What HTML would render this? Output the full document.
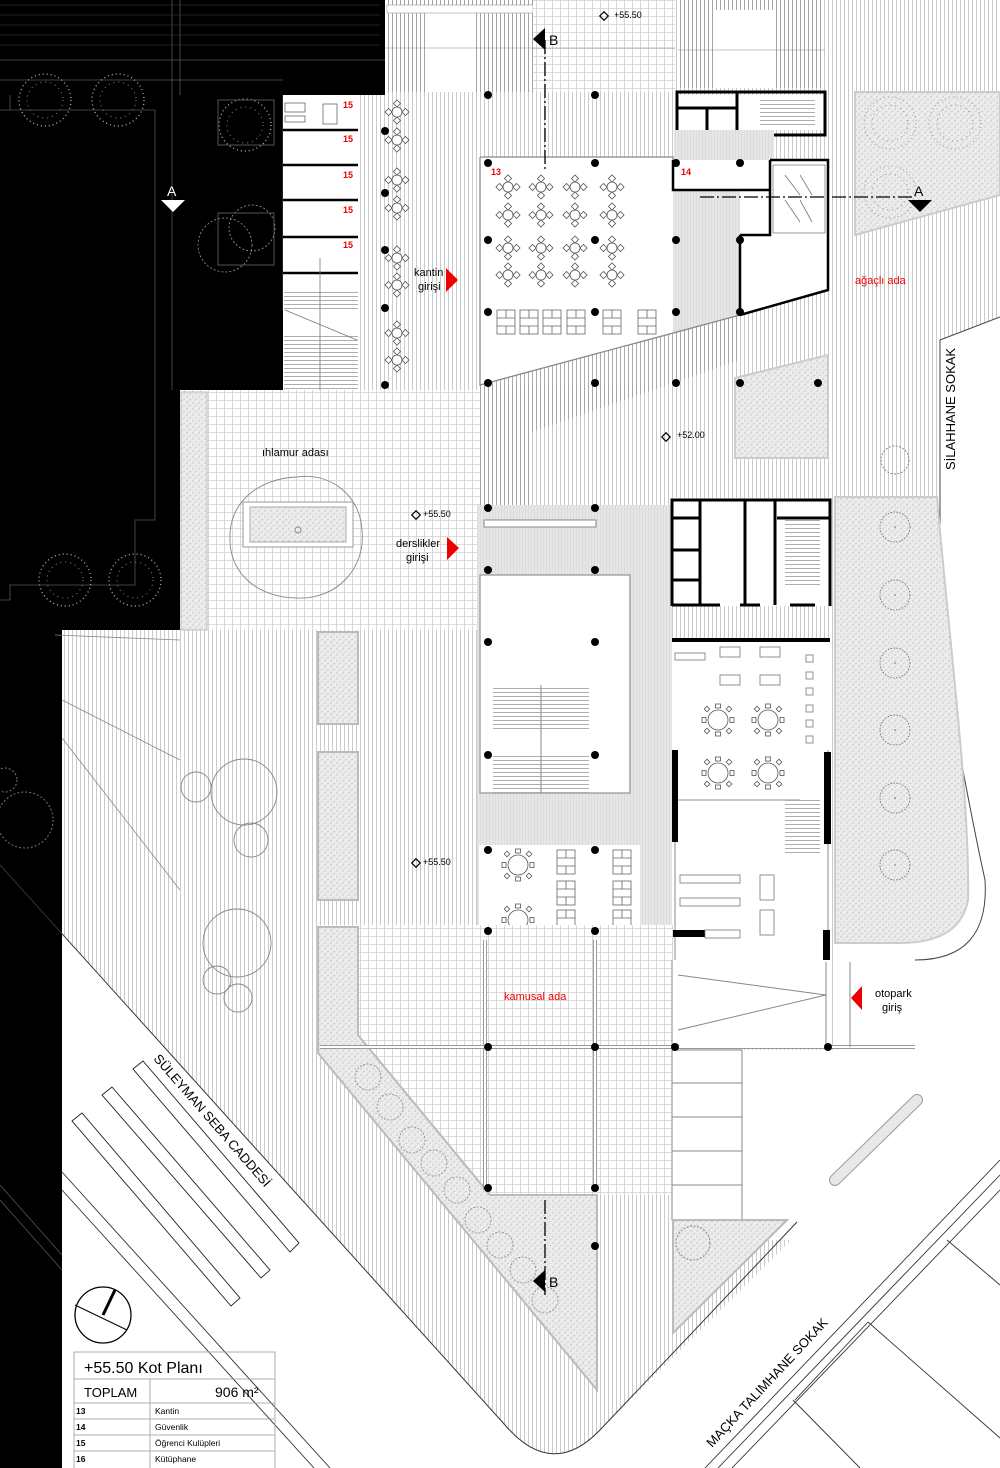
<!DOCTYPE html>
<html><head><meta charset="utf-8"><style>
html,body{margin:0;padding:0;background:#fff;}
svg{display:block;}
text{font-family:"Liberation Sans",sans-serif;}
</style></head><body>
<svg width="1000" height="1468" viewBox="0 0 1000 1468" xmlns="http://www.w3.org/2000/svg">
<defs>
<pattern id="vh" width="4" height="10" patternUnits="userSpaceOnUse"><rect width="4" height="10" fill="#fff"/><line x1="0.5" y1="0" x2="0.5" y2="10" stroke="#bdbdbd" stroke-width="0.8"/></pattern>
<pattern id="vhd" width="4" height="10" patternUnits="userSpaceOnUse"><rect width="4" height="10" fill="#fff"/><line x1="0.5" y1="0" x2="0.5" y2="10" stroke="#999" stroke-width="0.9"/></pattern>
<pattern id="hh" width="10" height="4" patternUnits="userSpaceOnUse"><rect width="10" height="4" fill="#fff"/><line x1="0" y1="0.5" x2="10" y2="0.5" stroke="#999" stroke-width="0.8"/></pattern>
<pattern id="gr" width="8" height="8" patternUnits="userSpaceOnUse"><rect width="8" height="8" fill="#fff"/><path d="M0 0.5H8M0.5 0V8" stroke="#cfcfcf" stroke-width="0.8"/></pattern>
<pattern id="dt" width="6" height="6" patternUnits="userSpaceOnUse"><rect width="6" height="6" fill="#ececec"/><circle cx="1" cy="1" r="0.6" fill="#aaa"/><circle cx="4" cy="3.5" r="0.6" fill="#b5b5b5"/><circle cx="2" cy="5" r="0.5" fill="#bbb"/></pattern>
<pattern id="gy" width="3" height="10" patternUnits="userSpaceOnUse"><rect width="3" height="10" fill="#e6e6e6"/><line x1="0.5" y1="0" x2="0.5" y2="10" stroke="#d6d6d6" stroke-width="0.6"/></pattern>
<g id="t4"><circle cx="0" cy="0" r="5" fill="#fff" stroke="#555" stroke-width="0.8"/><rect x="-2.5" y="-11" width="5" height="5" transform="rotate(45 0 -8.5)" fill="#fff" stroke="#555" stroke-width="0.8"/><rect x="-2.5" y="6" width="5" height="5" transform="rotate(45 0 8.5)" fill="#fff" stroke="#555" stroke-width="0.8"/><rect x="-11" y="-2.5" width="5" height="5" transform="rotate(45 -8.5 0)" fill="#fff" stroke="#555" stroke-width="0.8"/><rect x="6" y="-2.5" width="5" height="5" transform="rotate(45 8.5 0)" fill="#fff" stroke="#555" stroke-width="0.8"/></g>
<g id="t6"><circle r="10" fill="#fff" stroke="#555" stroke-width="0.8"/><g fill="#fff" stroke="#555" stroke-width="0.8"><rect x="-2.5" y="-16" width="5" height="4"/><rect x="-2.5" y="12" width="5" height="4"/><rect x="-16" y="-2.5" width="4" height="5"/><rect x="12" y="-2.5" width="4" height="5"/><rect x="-13" y="-13" width="4" height="4" transform="rotate(45 -11 -11)"/><rect x="9" y="-13" width="4" height="4" transform="rotate(45 11 -11)"/><rect x="-13" y="9" width="4" height="4" transform="rotate(45 -11 11)"/><rect x="9" y="9" width="4" height="4" transform="rotate(45 11 11)"/></g></g>
<g id="sq"><rect x="-9" y="-12" width="18" height="24" fill="#fff" stroke="#666" stroke-width="0.8"/><path d="M-9 -4H9M-9 4H9M0 -12V-4M0 4V12" stroke="#666" stroke-width="0.8"/></g>
<g id="tree"><circle r="15" fill="none" stroke="#666" stroke-width="0.8" stroke-dasharray="1.5 1.5"/><circle r="0.8" fill="#666"/></g>
<g id="dtree"><circle r="26" fill="none" stroke="#aaa" stroke-width="1.4" stroke-dasharray="1 3"/><circle r="18" fill="none" stroke="#888" stroke-width="1" stroke-dasharray="1 4"/></g>
</defs>

<path d="M62 0H1000V317L940 340V620H833V1050H672V1240H791L600 1430Q552 1480 505 1425L62 934Z" fill="url(#vh)"/>

<polygon points="0,0 385,0 385,95 283,95 283,390 180,390 180,630 62,630 62,1468 0,1468" fill="#000"/>
<g stroke="#555" stroke-width="0.8" fill="none">
<path d="M0 60H385M0 80H283M10 95V110H0M10 110H155V480M155 110V520H135V585H10V600H0"/>
<path d="M172 0V390M180 0V95M283 95V310"/>
<path d="M0 1185L62 1255M0 1200L62 1270"/>
</g>
<g stroke="#444" stroke-width="0.6"><path d="M0 5H380M0 15H380M0 25H380M0 35H380M0 45H380"/></g>
<use href="#dtree" x="45" y="100"/><use href="#dtree" x="118" y="100"/><use href="#dtree" x="245" y="125"/>
<use href="#dtree" x="65" y="580"/><use href="#dtree" x="135" y="580"/>
<circle cx="225" cy="245" r="27" fill="none" stroke="#999" stroke-width="0.8" stroke-dasharray="2 2"/>
<circle cx="252" cy="228" r="23" fill="none" stroke="#999" stroke-width="0.8" stroke-dasharray="2 2"/>
<rect x="218" y="100" width="56" height="45" fill="none" stroke="#555"/><rect x="218" y="213" width="56" height="52" fill="none" stroke="#555"/>
<circle cx="25" cy="820" r="28" fill="none" stroke="#777" stroke-dasharray="2 2"/>
<circle cx="5" cy="780" r="12" fill="none" stroke="#777" stroke-dasharray="2 2"/>

<rect x="283" y="95" width="77" height="295" fill="#fff"/>
<g stroke="#000" stroke-width="2.5"><path d="M283 130H358M283 165H358M283 200H358M283 237H358M283 273H358"/></g>
<rect x="284" y="290" width="74" height="20" fill="url(#hh)"/>
<rect x="284" y="335" width="74" height="55" fill="url(#hh)"/>
<path d="M285 310L357 340M320 258V390" stroke="#777" stroke-width="0.8"/>
<g fill="#fff" stroke="#666" stroke-width="0.8"><rect x="285" y="103" width="20" height="9"/><rect x="285" y="116" width="20" height="6"/><rect x="323" y="104" width="14" height="20"/></g>
<g fill="#e00" font-size="9" font-weight="bold"><text x="343" y="108">15</text><text x="343" y="142">15</text><text x="343" y="178">15</text><text x="343" y="213">15</text><text x="343" y="248">15</text></g>

<rect x="385" y="0" width="148" height="92" fill="url(#vhd)"/>
<rect x="425" y="10" width="50" height="82" fill="#fff"/>
<rect x="387" y="5" width="146" height="8" fill="#fff" stroke="#999" stroke-width="0.6"/>
<rect x="533" y="0" width="142" height="92" fill="url(#gr)"/>
<rect x="678" y="0" width="146" height="88" fill="url(#vhd)"/>
<rect x="713" y="10" width="60" height="78" fill="#fff"/>
<path d="M385 48H675M678 50H825" stroke="#888" stroke-width="0.6"/>

<rect x="180" y="390" width="300" height="240" fill="url(#gr)"/>
<rect x="181" y="392" width="26" height="238" fill="url(#dt)" stroke="#bbb"/>
<rect x="385" y="95" width="95" height="295" fill="url(#vh)"/>
<path d="M297 477C330 472 360 495 362 530C366 570 335 600 297 598C260 598 230 575 230 540C228 500 262 478 297 477Z" fill="none" stroke="#888" stroke-width="0.9"/>
<rect x="243" y="502" width="110" height="45" fill="#fff" stroke="#999"/>
<rect x="250" y="507" width="96" height="35" fill="url(#dt)" stroke="#aaa"/>
<circle cx="298" cy="530" r="3" fill="none" stroke="#888"/>
<text x="262" y="456" font-size="11">ıhlamur adası</text>
<g>
<use href="#t4" x="397" y="112"/><use href="#t4" x="397" y="140"/><use href="#t4" x="397" y="180"/><use href="#t4" x="397" y="208"/><use href="#t4" x="397" y="258"/><use href="#t4" x="397" y="285"/><use href="#t4" x="397" y="333"/><use href="#t4" x="397" y="360"/>
</g>
<text x="414" y="276" font-size="11">kantin</text><text x="418" y="290" font-size="11">girişi</text>
<polygon points="446,268 458,280 446,292" fill="#e00"/>
<text x="396" y="547" font-size="11">derslikler</text><text x="406" y="561" font-size="11">girişi</text>
<polygon points="447,537 459,548 447,560" fill="#e00"/>
<g font-size="9"><text x="423" y="517">+55.50</text><text x="423" y="865">+55.50</text><text x="677" y="438">+52.00</text><text x="534" y="1116">+52.00</text><text x="614" y="18">+55.50</text></g>
<g fill="none" stroke="#000" stroke-width="1.2"><rect x="413" y="512" width="6" height="6" transform="rotate(45 416 515)"/><rect x="413" y="860" width="6" height="6" transform="rotate(45 416 863)"/><rect x="663" y="434" width="6" height="6" transform="rotate(45 666 437)"/><rect x="521" y="1112" width="6" height="6" transform="rotate(45 524 1115)"/><rect x="601" y="13" width="6" height="6" transform="rotate(45 604 16)"/></g>

<polygon points="480,157 673,157 673,385 480,385" fill="#fff"/>
<polygon points="480,385 740,315 830,290 830,160 673,160 673,385" fill="#fff"/>
<polygon points="673,190 740,190 740,315 673,335" fill="url(#gy)"/>
<polygon points="480,385 740,315 740,360 480,450" fill="url(#vhd)" opacity="0.9"/>
<rect x="480" y="385" width="50" height="120" fill="url(#vhd)"/>
<path d="M480 157H673V190H740M480 157V385L740 315" fill="none" stroke="#888" stroke-width="1.3"/>
<rect x="673" y="95" width="155" height="35" fill="#fff"/>
<path d="M677 140V92H825V135H755M677 108H737M677 92V140M707 108V135M737 92V135M755 135V130" fill="none" stroke="#000" stroke-width="3"/>
<rect x="760" y="98" width="55" height="30" fill="url(#hh)"/>
<rect x="674" y="130" width="100" height="30" fill="url(#gy)"/>
<path d="M673 160V190H770M770 160H828V290L740 315M740 235V315M770 160V235H740" fill="none" stroke="#000" stroke-width="2.5"/>
<rect x="773" y="165" width="52" height="68" fill="#fff" stroke="#555" stroke-width="0.6"/>
<path d="M785 175L800 195M800 175L812 195M785 200L800 222M800 200L812 222" stroke="#777" stroke-width="0.8"/>
<g>
<use href="#t4" x="508" y="187"/><use href="#t4" x="541" y="187"/><use href="#t4" x="575" y="187"/><use href="#t4" x="612" y="187"/>
<use href="#t4" x="508" y="215"/><use href="#t4" x="541" y="215"/><use href="#t4" x="575" y="215"/><use href="#t4" x="612" y="215"/>
<use href="#t4" x="508" y="248"/><use href="#t4" x="541" y="248"/><use href="#t4" x="575" y="248"/><use href="#t4" x="612" y="248"/>
<use href="#t4" x="508" y="275"/><use href="#t4" x="541" y="275"/><use href="#t4" x="575" y="275"/><use href="#t4" x="612" y="275"/>
<use href="#sq" x="506" y="322"/><use href="#sq" x="529" y="322"/><use href="#sq" x="552" y="322"/><use href="#sq" x="576" y="322"/><use href="#sq" x="612" y="322"/><use href="#sq" x="647" y="322"/>
</g>
<g fill="#e00" font-size="9" font-weight="bold"><text x="491" y="175">13</text><text x="681" y="175">14</text><text x="683" y="794">16</text><text x="484" y="921">17</text></g>
<polygon points="855,92 1000,92 1000,195 855,235" fill="url(#dt)" stroke="#ccc" stroke-width="2"/>
<use href="#dtree" x="890" y="123"/><use href="#dtree" x="955" y="123"/><use href="#dtree" x="890" y="192"/>
<text x="855" y="284" font-size="11" fill="#e00">ağaçlı ada</text>
<polygon points="735,378 828,355 828,458 735,458" fill="url(#dt)" stroke="#ccc" stroke-width="2"/>
<circle cx="895" cy="460" r="14" fill="none" stroke="#888" stroke-dasharray="2 1.5"/>
<path d="M940 340V620C950 720 985 880 985 880Q990 960 915 960" fill="none" stroke="#444" stroke-width="1"/>
<path d="M940 340L1000 317" stroke="#444" stroke-width="1"/>
<text transform="translate(955,470) rotate(-90)" font-size="13">SİLAHHANE SOKAK</text>

<rect x="477" y="505" width="195" height="435" fill="url(#gy)"/>
<rect x="480" y="575" width="150" height="218" fill="#fff" stroke="#999" stroke-width="1.3"/>
<rect x="493" y="685" width="96" height="45" fill="url(#hh)"/><rect x="493" y="753" width="96" height="40" fill="url(#hh)"/>
<path d="M541 685V793" stroke="#888"/>
<rect x="484" y="520" width="112" height="7" fill="#fff" stroke="#888"/>
<rect x="479" y="845" width="161" height="95" fill="#fff"/>
<path d="M477 940H640" stroke="#999" stroke-width="2"/>
<use href="#t6" x="518" y="865"/><use href="#t6" x="518" y="920"/>
<use href="#sq" x="566" y="862"/><use href="#sq" x="622" y="862"/><use href="#sq" x="566" y="893"/><use href="#sq" x="622" y="893"/><use href="#sq" x="566" y="922"/><use href="#sq" x="622" y="922"/>
<rect x="672" y="498" width="158" height="108" fill="#fff"/>
<path d="M672 606V500H830V606M672 518H700M672 550H700M672 580H700M700 500V605M745 500V605M775 500V605M777 518H830M672 605H720M740 605H760M790 605H815" fill="none" stroke="#000" stroke-width="3"/>
<rect x="785" y="520" width="35" height="65" fill="url(#hh)"/>
<rect x="672" y="638" width="158" height="322" fill="#fff"/>
<path d="M672 640H830" stroke="#000" stroke-width="4"/>
<path d="M675 750V960M828 750V960M672 800H800" stroke="#888" stroke-width="1"/>
<rect x="672" y="750" width="6" height="92" fill="#000"/><rect x="824" y="752" width="7" height="92" fill="#000"/>
<rect x="672" y="930" width="33" height="7" fill="#000"/><rect x="823" y="930" width="7" height="30" fill="#000"/>
<rect x="785" y="800" width="35" height="55" fill="url(#hh)"/>
<use href="#t6" x="718" y="720"/><use href="#t6" x="768" y="720"/><use href="#t6" x="718" y="773"/><use href="#t6" x="768" y="773"/>
<g fill="#fff" stroke="#777" stroke-width="0.8"><rect x="720" y="647" width="20" height="10"/><rect x="760" y="647" width="20" height="10"/><rect x="720" y="675" width="20" height="10"/><rect x="760" y="675" width="20" height="10"/><rect x="675" y="653" width="30" height="7"/>
<rect x="806" y="655" width="7" height="7"/><rect x="806" y="672" width="7" height="7"/><rect x="806" y="688" width="7" height="7"/><rect x="806" y="705" width="7" height="7"/><rect x="806" y="720" width="7" height="7"/><rect x="806" y="736" width="7" height="7"/>
<rect x="680" y="875" width="60" height="8"/><rect x="680" y="898" width="60" height="8"/><rect x="705" y="930" width="35" height="8"/><rect x="760" y="875" width="14" height="25"/><rect x="760" y="910" width="14" height="25"/></g>
<path d="M835 497H937C950 650 970 800 968 900Q960 943 900 943H835Z" fill="url(#dt)" stroke="#ccc" stroke-width="2"/>
<use href="#tree" x="895" y="527"/><use href="#tree" x="895" y="595"/><use href="#tree" x="895" y="663"/><use href="#tree" x="895" y="730"/><use href="#tree" x="895" y="798"/><use href="#tree" x="895" y="865"/>

<rect x="318" y="632" width="40" height="92" fill="url(#dt)" stroke="#bbb" stroke-width="2"/>
<rect x="318" y="752" width="40" height="148" fill="url(#dt)" stroke="#bbb" stroke-width="2"/>
<g fill="none" stroke="#888" stroke-width="0.9"><circle cx="244" cy="792" r="33"/><circle cx="196" cy="787" r="15"/><circle cx="251" cy="840" r="17"/><circle cx="237" cy="943" r="34"/><circle cx="217" cy="980" r="14"/><circle cx="238" cy="998" r="14"/></g>
<path d="M55 635L180 640M62 700L180 760M62 738L180 890" stroke="#888" stroke-width="0.8" fill="none"/>

<rect x="318" y="925" width="355" height="125" fill="url(#gr)"/>
<polygon points="360,1050 672,1050 672,1195 490,1195" fill="url(#gr)"/>
<polygon points="318,927 358,927 358,1035 490,1195 597,1195 597,1390 318,1053" fill="url(#dt)" stroke="#bbb" stroke-width="2"/>
<g fill="none" stroke="#888" stroke-width="0.8" stroke-dasharray="2 1.5"><circle cx="368" cy="1077" r="13"/><circle cx="390" cy="1107" r="13"/><circle cx="412" cy="1140" r="13"/><circle cx="434" cy="1163" r="13"/><circle cx="457" cy="1190" r="13"/><circle cx="478" cy="1220" r="13"/><circle cx="500" cy="1245" r="13"/><circle cx="523" cy="1270" r="13"/><circle cx="545" cy="1300" r="13"/></g>
<path d="M485 940V1190M595 940V1190M320 1047H915" stroke="#999" stroke-width="4"/>
<path d="M485 940V1190M595 940V1190M320 1047H915" stroke="#fff" stroke-width="2"/>
<text x="504" y="1000" font-size="11" fill="#e00">kamusal ada</text>
<rect x="672" y="960" width="158" height="87" fill="#fff"/>
<path d="M672 960V1047M826 962V1047M850 962V1047M678 975L826 995L678 1030" fill="none" stroke="#888"/>
<polygon points="862,986 851,998 862,1010" fill="#e00"/>
<text x="875" y="997" font-size="11">otopark</text><text x="882" y="1011" font-size="11">giriş</text>
<rect x="672" y="1050" width="70" height="170" fill="#fff" stroke="#888"/>
<path d="M672 1083H742M672 1117H742M672 1151H742M672 1185H742" stroke="#888"/>
<polygon points="673,1220 787,1220 673,1333" fill="url(#dt)" stroke="#bbb" stroke-width="2"/>
<circle cx="693" cy="1243" r="17" fill="none" stroke="#888" stroke-dasharray="2 1.5"/>
<path d="M917 1100L835 1180" stroke="#999" stroke-width="12" stroke-linecap="round"/><path d="M917 1100L835 1180" stroke="#e8e8e8" stroke-width="10" stroke-linecap="round"/>

<path d="M0 865L505 1425Q552 1480 600 1430L797 1222" fill="none" stroke="#333" stroke-width="1"/>
<path d="M1000 1160L705 1468M1000 1175L718 1468M1000 1190L732 1468" stroke="#333" stroke-width="0.9" fill="none"/>
<path d="M947 1240L1000 1285M868 1322L1000 1438M868 1322L795 1400M793 1400L860 1468" stroke="#333" stroke-width="0.9" fill="none"/>
<g fill="#fff" stroke="#222" stroke-width="0.9">
<polygon points="133,1069 143,1061 299,1243 290,1252"/>
<polygon points="102,1095 112,1087 270,1270 261,1278"/>
<polygon points="72,1121 82,1113 240,1298 231,1306"/>
</g>
<path d="M62 1172L330 1468M62 1190L314 1468" stroke="#333" stroke-width="0.9"/>
<text transform="translate(153,1059) rotate(49)" font-size="13">SÜLEYMAN SEBA CADDESİ</text>
<text transform="translate(712,1448) rotate(-47)" font-size="13">MAÇKA TALIMHANE SOKAK</text>

<g fill="#000">
<circle cx="488" cy="95" r="4"/><circle cx="595" cy="95" r="4"/>
<circle cx="385" cy="131" r="4"/><circle cx="385" cy="193" r="4"/><circle cx="385" cy="250" r="4"/><circle cx="385" cy="308" r="4"/><circle cx="385" cy="385" r="4"/>
<circle cx="488" cy="163" r="4"/><circle cx="595" cy="163" r="4"/><circle cx="676" cy="163" r="4"/><circle cx="740" cy="163" r="4"/>
<circle cx="488" cy="240" r="4"/><circle cx="595" cy="240" r="4"/><circle cx="676" cy="240" r="4"/><circle cx="740" cy="240" r="4"/>
<circle cx="488" cy="312" r="4"/><circle cx="595" cy="312" r="4"/><circle cx="676" cy="312" r="4"/><circle cx="740" cy="312" r="4"/>
<circle cx="488" cy="383" r="4"/><circle cx="595" cy="383" r="4"/><circle cx="676" cy="383" r="4"/><circle cx="740" cy="383" r="4"/><circle cx="818" cy="383" r="4"/>
<circle cx="488" cy="508" r="4"/><circle cx="595" cy="508" r="4"/><circle cx="488" cy="570" r="4"/><circle cx="595" cy="570" r="4"/>
<circle cx="488" cy="642" r="4"/><circle cx="595" cy="642" r="4"/><circle cx="488" cy="755" r="4"/><circle cx="595" cy="755" r="4"/>
<circle cx="488" cy="850" r="4"/><circle cx="595" cy="850" r="4"/><circle cx="488" cy="931" r="4"/><circle cx="595" cy="931" r="4"/>
<circle cx="488" cy="1047" r="4"/><circle cx="595" cy="1047" r="4"/><circle cx="675" cy="1047" r="4"/><circle cx="828" cy="1047" r="4"/>
<circle cx="488" cy="1188" r="4"/><circle cx="595" cy="1188" r="4"/><circle cx="595" cy="1246" r="4"/>
</g>

<path d="M545 40V170" stroke="#000" stroke-width="1.3" stroke-dasharray="14 3 2 3"/>
<path d="M545 1200V1295" stroke="#000" stroke-width="1.3" stroke-dasharray="14 3 2 3"/>
<path d="M175 193H280M700 197H915" stroke="#000" stroke-width="1.3" stroke-dasharray="14 3 2 3"/>
<polygon points="545,28 545,50 533,39" fill="#000"/><text x="549" y="45" font-size="14">B</text>
<polygon points="545,1270 545,1292 533,1281" fill="#000"/><text x="549" y="1287" font-size="14">B</text>
<polygon points="161,200 185,200 173,212" fill="#fff"/><text x="167" y="196" font-size="14" fill="#fff">A</text>
<polygon points="908,200 932,200 920,212" fill="#000"/><text x="914" y="196" font-size="14">A</text>

<circle cx="103" cy="1315" r="28" fill="#fff" stroke="#000" stroke-width="1.3"/>
<path d="M75 1305L127 1330M103 1315L115 1290" stroke="#000" stroke-width="1"/>
<path d="M103 1315L115 1290" stroke="#000" stroke-width="3"/>
<g fill="none" stroke="#999" stroke-width="0.8">
<rect x="74" y="1352" width="201" height="118"/>
<path d="M74 1379H275M74 1403H275M74 1419H275M74 1435H275M74 1451H275M150 1379V1468"/>
</g>
<text x="84" y="1373" font-size="16">+55.50 Kot Planı</text>
<text x="84" y="1397" font-size="13">TOPLAM</text>
<text x="215" y="1397" font-size="14">906 m²</text>
<g font-size="8.5" font-weight="bold"><text x="76" y="1414">13</text><text x="76" y="1430">14</text><text x="76" y="1446">15</text><text x="76" y="1462">16</text></g>
<g font-size="8.5"><text x="155" y="1414">Kantin</text><text x="155" y="1430">Güvenlik</text><text x="155" y="1446">Öğrenci Kulüpleri</text><text x="155" y="1462">Kütüphane</text></g>
</svg>
</body></html>
